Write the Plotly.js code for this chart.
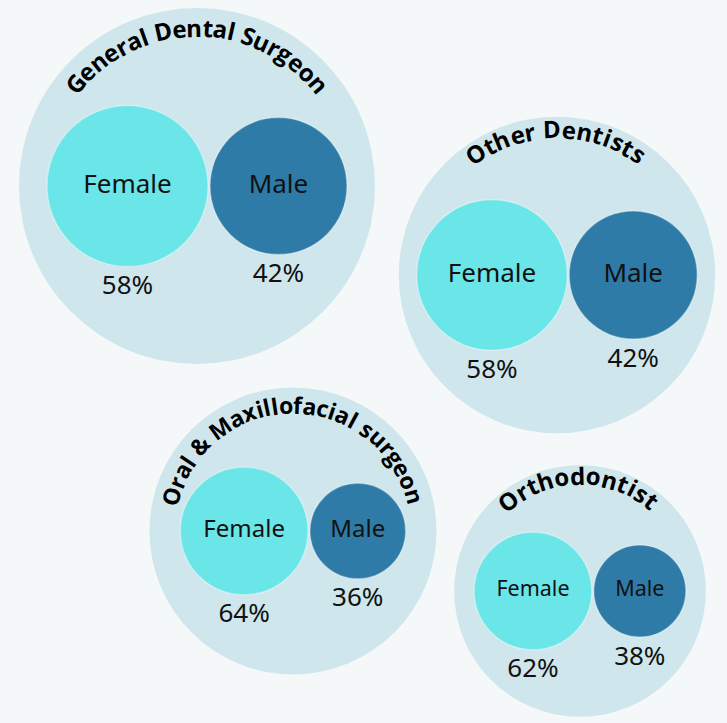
<!DOCTYPE html>
<html><head><meta charset="utf-8">
<script src="https://cdn.plot.ly/plotly-3.0.1.min.js"></script>
<style>html,body{margin:0;padding:0;background:#f4f8f8;}#chart{width:727px;height:723px;}</style>
</head><body><div id="chart"></div>
<script>
// ---------- DATA ----------
const groups = ['General Dental Surgeon', 'Other Dentists', 'Oral & Maxillofacial surgeon', 'Orthodontist'];
const genderLabels = ['Female', 'Male'];
const femalePct = [58, 58, 64, 62];
const malePct = [42, 42, 36, 38];
const groupWeight = [100, 79, 65, 50]; // relative size of each specialty bubble (area)

// ---------- LAYOUT / STYLE ----------
const W = 727, H = 723;
const groupCenter = [[197, 186], [557, 275], [293, 531], [580, 591]];
const radiusScale = 17.8;                  // px per sqrt(weight)
const innerFill = [0.837, 0.88, 0.778, 0.833];
const innerGap = 2;
const titleSpanDeg = [100, 68, 148, 77];
const titleInset = [19, 12, 17, 10];
const titleFontSize = [24, 24, 23, 24];
const labelFontSize = [26, 26, 24, 21.5];
const pctFontSize = 26;
const pctOffset = 21;
const colors = {bg: '#f4f8f8', outer: '#cfe7ec', female: '#6ae5e8', male: '#2e7ba8', text: '#111111'};
const titleFont = 'Open Sans';
const labelFont = 'Noto Sans';

// ---------- GEOMETRY ----------
const R = groupWeight.map(w => radiusScale * Math.sqrt(w));
const rF = [], rM = [], xF = [], xM = [], yC = [];
groups.forEach((g, i) => {
  const sf = Math.sqrt(femalePct[i]), sm = Math.sqrt(malePct[i]);
  const tot = innerFill[i] * R[i];
  const a = tot * sf / (sf + sm), b = tot * sm / (sf + sm);
  rF.push(a); rM.push(b);
  const span = 2 * a + innerGap + 2 * b;
  const left = groupCenter[i][0] - span / 2;
  xF.push(left + a);
  xM.push(left + 2 * a + innerGap + b);
  yC.push(groupCenter[i][1]);
});

const outerTrace = {
  type: 'scatter', mode: 'markers', hoverinfo: 'skip',
  x: groupCenter.map(c => c[0]), y: groupCenter.map(c => c[1]),
  marker: {size: R.map(r => 2 * r), sizemode: 'diameter', opacity: 1, color: colors.outer, line: {width: 0}}
};
const femaleTrace = {
  type: 'scatter', mode: 'markers+text', hoverinfo: 'skip',
  x: xF, y: yC, text: groups.map(() => genderLabels[0]), textposition: 'middle center',
  textfont: {family: labelFont, size: labelFontSize, color: colors.text},
  marker: {size: rF.map(r => 2 * r), sizemode: 'diameter', opacity: 1, color: colors.female, line: {width: 1.5, color: 'rgba(255,255,255,0.35)'}}
};
const maleTrace = {
  type: 'scatter', mode: 'markers+text', hoverinfo: 'skip',
  x: xM, y: yC, text: groups.map(() => genderLabels[1]), textposition: 'middle center',
  textfont: {family: labelFont, size: labelFontSize, color: colors.text},
  marker: {size: rM.map(r => 2 * r), sizemode: 'diameter', opacity: 1, color: colors.male, line: {width: 1.5, color: 'rgba(255,255,255,0.35)'}}
};
const pctTrace = {
  type: 'scatter', mode: 'text', hoverinfo: 'skip', cliponaxis: false,
  x: xF.concat(xM),
  y: yC.map((y, i) => y + rF[i] + pctOffset).concat(yC.map((y, i) => y + rM[i] + pctOffset)),
  text: femalePct.map(v => v + '%').concat(malePct.map(v => v + '%')),
  textposition: 'middle center',
  textfont: {family: labelFont, size: pctFontSize, color: colors.text}
};

// ---------- CURVED TITLES ----------
const canvas = document.createElement('canvas');
const ctx = canvas.getContext('2d');
const annotations = [];
groups.forEach((g, i) => {
  ctx.font = 'bold ' + titleFontSize[i] + 'px "' + titleFont + '"';
  const chars = Array.from(g);
  const w = chars.map(c => ctx.measureText(c).width);
  const rho = R[i] - titleInset[i];
  const arc = titleSpanDeg[i] * Math.PI / 180 * rho;
  const base = [];
  let acc = 0;
  chars.forEach((c, k) => { base.push(acc + w[k] / 2); acc += w[k]; });
  const baseSpan = base[base.length - 1] - base[0];
  const sp = (arc - baseSpan) / (chars.length - 1);
  chars.forEach((c, k) => {
    if (c === ' ') return;
    const s = base[k] - base[0] + k * sp;
    const th = (-titleSpanDeg[i] / 2 + s / arc * titleSpanDeg[i]) * Math.PI / 180;
    annotations.push({
      x: groupCenter[i][0] + rho * Math.sin(th),
      y: groupCenter[i][1] - rho * Math.cos(th),
      xref: 'x', yref: 'y', showarrow: false,
      text: '<b>' + (c === '&' ? '&amp;' : c) + '</b>',
      textangle: th * 180 / Math.PI,
      xanchor: 'center', yanchor: 'middle',
      font: {family: titleFont, size: titleFontSize[i], color: '#000000', weight: 700}
    });
  });
});

const layout = {
  width: W, height: H,
  margin: {l: 0, r: 0, t: 0, b: 0, pad: 0},
  paper_bgcolor: colors.bg, plot_bgcolor: colors.bg,
  showlegend: false,
  xaxis: {range: [0, W], visible: false, fixedrange: true},
  yaxis: {range: [H, 0], visible: false, fixedrange: true},
  annotations: annotations
};
Plotly.newPlot('chart', [outerTrace, femaleTrace, maleTrace, pctTrace], layout, {staticPlot: true, displayModeBar: false});
</script>
</body></html>
